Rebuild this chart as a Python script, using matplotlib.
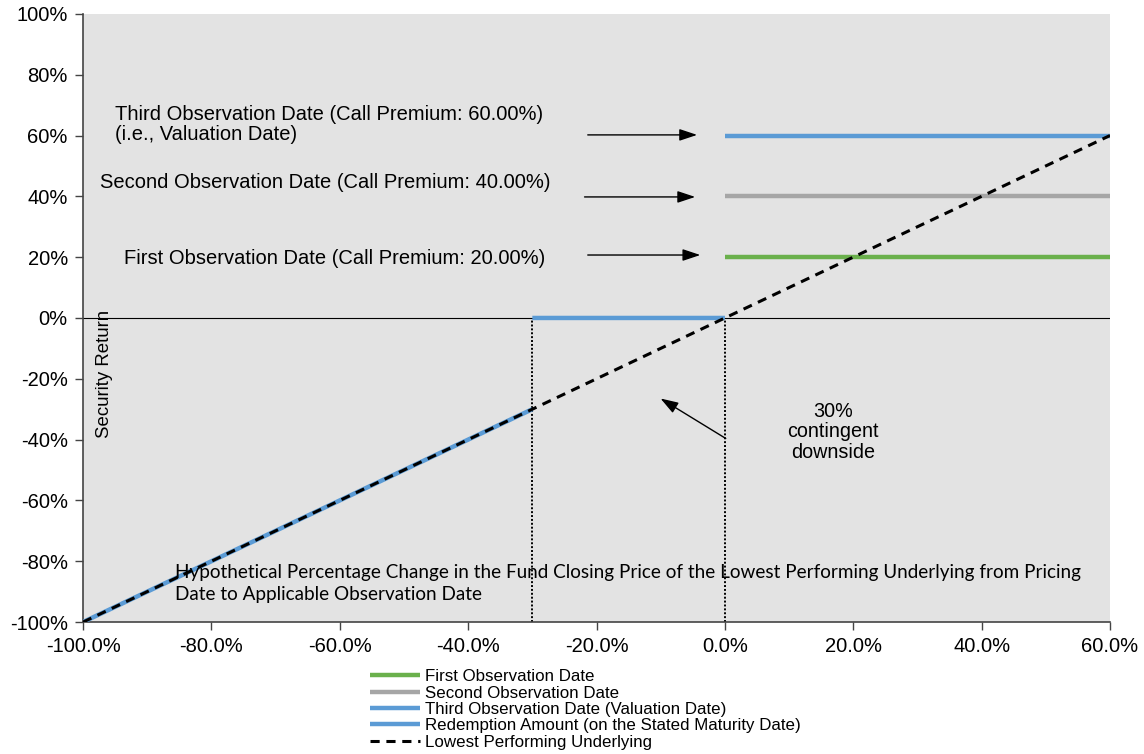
import matplotlib
matplotlib.use("Agg")
import matplotlib.pyplot as plt
from matplotlib.ticker import FuncFormatter, MultipleLocator

plt.rcParams['font.family'] = ['Liberation Sans', 'DejaVu Sans']

# Data
underlying_x = [-100, 60]
underlying_y = [-100, 60]
redemption_x = [-100, -30, float('nan'), -30, 0]
redemption_y = [-100, -30, float('nan'), 0, 0]
obs_x = [0, 60]
first_obs = [20, 20]
second_obs = [40, 40]
third_obs = [60, 60]
barrier_x = [-30, 0]

green = '#6ab04c'
grey = '#a6a6a6'
blue = '#5b9bd5'

fig = plt.figure(figsize=(11.44, 7.54), dpi=100)
ax = fig.add_axes([0.0726, 0.175, 0.8977, 0.8066])
ax.set_facecolor('#e3e3e3')

lw = 3.2
ax.plot(obs_x, first_obs, color=green, lw=lw, solid_capstyle='butt', label='First Observation Date', zorder=3)
ax.plot(obs_x, second_obs, color=grey, lw=lw, solid_capstyle='butt', label='Second Observation Date', zorder=3)
ax.plot(obs_x, third_obs, color=blue, lw=lw, solid_capstyle='butt', label='Third Observation Date (Valuation Date)', zorder=3)
ax.plot(redemption_x, redemption_y, color=blue, lw=lw, solid_capstyle='butt', label='Redemption Amount (on the Stated Maturity Date)', zorder=3)
ax.plot(underlying_x, underlying_y, color='black', lw=2.2, ls=(0, (3.0, 2.2)), label='Lowest Performing Underlying', zorder=4)

ax.axhline(0, color='black', lw=0.8, zorder=2)
for bx in barrier_x:
    ax.plot([bx, bx], [-100, 0], color='black', lw=1.4, ls=(0, (1.0, 1.0)), zorder=2)

ax.set_xlim(-100, 60)
ax.set_ylim(-100, 100)
ax.xaxis.set_major_locator(MultipleLocator(20))
ax.yaxis.set_major_locator(MultipleLocator(20))
ax.xaxis.set_major_formatter(FuncFormatter(lambda v, p: f"{v:.1f}%"))
ax.yaxis.set_major_formatter(FuncFormatter(lambda v, p: f"{v:.0f}%"))
ax.tick_params(axis='both', labelsize=14.5, length=6, width=1, color='#444444')
ax.tick_params(axis='x', pad=5)
ax.tick_params(axis='y', pad=5)
for s in ['top', 'right']:
    ax.spines[s].set_visible(False)
for s in ['left', 'bottom']:
    ax.spines[s].set_color('#444444')
    ax.spines[s].set_linewidth(1.2)

fs = 14.5
ax.text(-95.0, 63.7, "Third Observation Date (Call Premium: 60.00%)\n(i.e., Valuation Date)",
        fontsize=fs, va='center', ha='left', linespacing=1.1)
ax.text(-97.4, 44.7, "Second Observation Date (Call Premium: 40.00%)", fontsize=fs, va='center', ha='left')
ax.text(-93.6, 19.7, "First Observation Date (Call Premium: 20.00%)", fontsize=fs, va='center', ha='left')

arrowprops = dict(arrowstyle='-|>,head_length=0.9,head_width=0.3', color='black', lw=1, mutation_scale=12)
ax.annotate('', xy=(-3.9, 60.2), xytext=(-21.8, 60.2), arrowprops=arrowprops)
ax.annotate('', xy=(-4.2, 39.8), xytext=(-22.3, 39.8), arrowprops=arrowprops)
ax.annotate('', xy=(-3.4, 20.7), xytext=(-21.8, 20.7), arrowprops=arrowprops)
ax.annotate('', xy=(-10.4, -26.0), xytext=(0.5, -40.1), arrowprops=arrowprops)

ax.text(16.8, -37.5, "30%\ncontingent\ndownside", fontsize=14.2, ha='center', va='center', linespacing=1.1)

ax.text(-96.7, -18.5, "Security Return", fontsize=13.4, rotation=90, ha='center', va='center')

ax.text(-85.6, -87.3, "Hypothetical Percentage Change in the Fund Closing Price of the Lowest Performing Underlying from Pricing\nDate to Applicable Observation Date",
        fontsize=13.6, family=['Lato', 'DejaVu Sans'], ha='left', va='center', linespacing=1.3)

leg = fig.legend(loc='upper left', bbox_to_anchor=(0.323, 0.1125), frameon=False, fontsize=12.2,
                 labelspacing=0.08, handlelength=3.0, handletextpad=0.25, borderpad=0, borderaxespad=0)

fig.savefig('out.png', dpi=100)
